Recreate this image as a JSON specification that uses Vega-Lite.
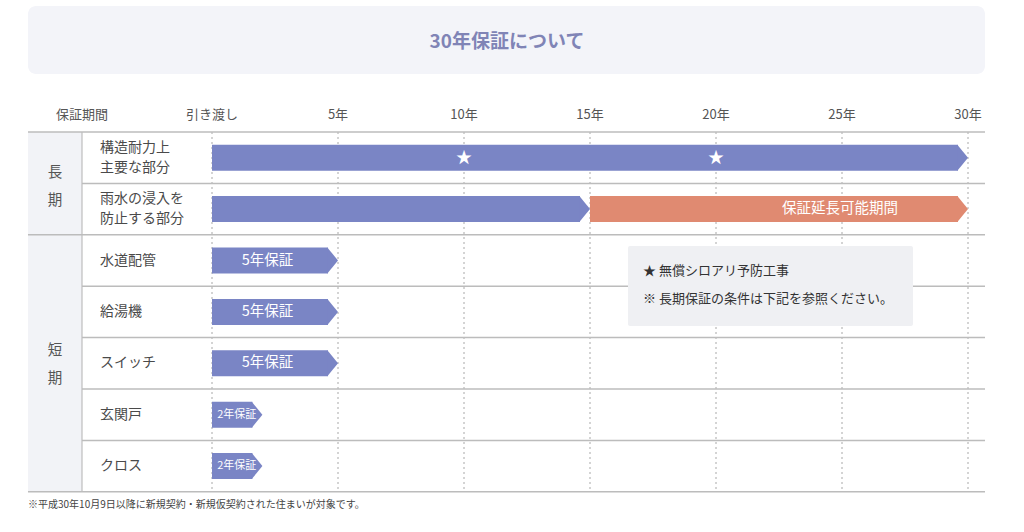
{
  "$schema": "https://vega.github.io/schema/vega-lite/v6.json",
  "width": 1024,
  "height": 532,
  "padding": 0,
  "autosize": {"type": "fit", "contains": "padding"},
  "background": "#ffffff",
  "config": {"view": {"stroke": null}, "font": "Noto Sans CJK JP"},
  "datasets": {
    "titlebox": [{"x0": -7.302, "x1": 30.675, "y0": -2.451, "y1": -1.128}],
    "groupcol": [{"x0": -7.302, "x1": -5.159, "y0": 0, "y1": 7}],
    "legendbox": [{"x0": 16.508, "x1": 27.817, "y0": 2.218, "y1": 3.774}],
    "title": [{"x": 11.706, "r": -1.751, "text": "30年保証について"}],
    "fulllines": [{"r": 0}, {"r": 2}, {"r": 7}],
    "innerlines": [{"r": 1}, {"r": 3}, {"r": 4}, {"r": 5}, {"r": 6}],
    "vsep": [{"x": -5.159, "r0": 0, "r1": 7}],
    "columns": [
      {"year": -5.159, "label": "保証期間"},
      {"year": 0, "label": "引き渡し"},
      {"year": 5, "label": "5年"},
      {"year": 10, "label": "10年"},
      {"year": 15, "label": "15年"},
      {"year": 20, "label": "20年"},
      {"year": 25, "label": "25年"},
      {"year": 30, "label": "30年"}
    ],
    "groups": [{"r": 1.07, "label": "長\n期"}, {"r": 4.53, "label": "短\n期"}],
    "rows2": [
      {"row": 0.5, "label": "構造耐力上\n主要な部分"},
      {"row": 1.5, "label": "雨水の浸入を\n防止する部分"}
    ],
    "rows1": [
      {"row": 2.5, "label": "水道配管"},
      {"row": 3.5, "label": "給湯機"},
      {"row": 4.5, "label": "スイッチ"},
      {"row": 5.5, "label": "玄関戸"},
      {"row": 6.5, "label": "クロス"}
    ],
    "bars": [
      {"row": 0.5, "start": 0, "end": 30, "type": "保証"},
      {"row": 1.5, "start": 0, "end": 15, "type": "保証"},
      {"row": 1.5, "start": 15, "end": 30, "type": "延長"},
      {"row": 2.5, "start": 0, "end": 5, "type": "保証"},
      {"row": 3.5, "start": 0, "end": 5, "type": "保証"},
      {"row": 4.5, "start": 0, "end": 5, "type": "保証"},
      {"row": 5.5, "start": 0, "end": 2, "type": "保証"},
      {"row": 6.5, "start": 0, "end": 2, "type": "保証"}
    ],
    "labels": [
      {"row": 1.5, "x": 24.92, "text": "保証延長可能期間"},
      {"row": 2.5, "x": 2.2, "text": "5年保証"},
      {"row": 3.5, "x": 2.2, "text": "5年保証"},
      {"row": 4.5, "x": 2.2, "text": "5年保証"}
    ],
    "smalllabels": [
      {"row": 5.5, "x": 0.98, "text": "2年保証"},
      {"row": 6.5, "x": 0.98, "text": "2年保証"}
    ],
    "stars": [{"row": 0.5, "year": 10}, {"row": 0.5, "year": 20}],
    "notes": [
      {"x": 17.103, "r": 2.704, "text": "★ 無償シロアリ予防工事"},
      {"x": 17.103, "r": 3.249, "text": "※ 長期保証の条件は下記を参照ください。"}
    ],
    "footnote": [{"x": -7.302, "r": 7.257, "text": "※平成30年10月9日以降に新規契約・新規仮契約された住まいが対象です。"}]
  },
  "layer": [
    {
      "data": {"name": "titlebox"},
      "mark": {"type": "rect", "fill": "#f3f4f9", "cornerRadius": 8},
      "encoding": {
        "x": {"field": "x0", "type": "quantitative", "scale": {"domain": [-8.4127, 32.2222], "nice": false, "zero": false}, "axis": null},
        "x2": {"field": "x1"},
        "y": {"field": "y0", "type": "quantitative", "scale": {"domain": [-2.568, 7.782], "nice": false, "zero": false, "reverse": true}, "axis": null},
        "y2": {"field": "y1"}
      }
    },
    {
      "data": {"name": "groupcol"},
      "mark": {"type": "rect", "fill": "#f2f3f7"},
      "encoding": {
        "x": {"field": "x0", "type": "quantitative", "axis": null},
        "x2": {"field": "x1"},
        "y": {"field": "y0", "type": "quantitative", "axis": null},
        "y2": {"field": "y1"}
      }
    },
    {
      "data": {"name": "title"},
      "mark": {"type": "text", "fontSize": 19, "fontWeight": "bold", "color": "#8084b6", "align": "center", "baseline": "middle", "font": "Noto Sans CJK JP"},
      "encoding": {
        "x": {"field": "x", "type": "quantitative", "axis": null},
        "y": {"field": "r", "type": "quantitative", "axis": null},
        "text": {"field": "text"}
      }
    },
    {
      "data": {"name": "columns"},
      "transform": [{"filter": "datum.year >= 0"}],
      "mark": {"type": "rule", "stroke": "#a8a8a8", "strokeWidth": 1, "strokeDash": [2, 3]},
      "encoding": {
        "x": {"field": "year", "type": "quantitative", "axis": null},
        "y": {"datum": 0, "type": "quantitative", "axis": null},
        "y2": {"datum": 7}
      }
    },
    {
      "data": {"name": "vsep"},
      "mark": {"type": "rule", "stroke": "#bdbdbd", "strokeWidth": 1.2},
      "encoding": {
        "x": {"field": "x", "type": "quantitative", "axis": null},
        "y": {"field": "r0", "type": "quantitative", "axis": null},
        "y2": {"field": "r1"}
      }
    },
    {
      "data": {"name": "fulllines"},
      "mark": {"type": "rule", "stroke": "#bcbcbc", "strokeWidth": 1.6},
      "encoding": {
        "x": {"datum": -7.302, "type": "quantitative", "axis": null},
        "x2": {"datum": 30.675},
        "y": {"field": "r", "type": "quantitative", "axis": null}
      }
    },
    {
      "data": {"name": "innerlines"},
      "mark": {"type": "rule", "stroke": "#bcbcbc", "strokeWidth": 1.5},
      "encoding": {
        "x": {"datum": -5.159, "type": "quantitative", "axis": null},
        "x2": {"datum": 30.675},
        "y": {"field": "r", "type": "quantitative", "axis": null}
      }
    },
    {
      "data": {"name": "columns"},
      "mark": {"type": "text", "fontSize": 13, "color": "#555555", "align": "center", "baseline": "middle", "font": "Noto Sans CJK JP"},
      "encoding": {
        "x": {"field": "year", "type": "quantitative", "axis": null},
        "y": {"datum": -0.331, "type": "quantitative", "axis": null},
        "text": {"field": "label"}
      }
    },
    {
      "data": {"name": "groups"},
      "mark": {"type": "text", "fontSize": 14.5, "color": "#555555", "align": "center", "baseline": "middle", "lineBreak": "\n", "lineHeight": 28, "dy": -14, "font": "Noto Sans CJK JP"},
      "encoding": {
        "x": {"datum": -6.23, "type": "quantitative", "axis": null},
        "y": {"field": "r", "type": "quantitative", "axis": null},
        "text": {"field": "label"}
      }
    },
    {
      "data": {"name": "rows2"},
      "mark": {"type": "text", "fontSize": 14, "color": "#4a4a4a", "align": "left", "baseline": "middle", "lineBreak": "\n", "lineHeight": 20, "dy": -10, "font": "Noto Sans CJK JP"},
      "encoding": {
        "x": {"datum": -4.444, "type": "quantitative", "axis": null},
        "y": {"field": "row", "type": "quantitative", "axis": null},
        "text": {"field": "label"}
      }
    },
    {
      "data": {"name": "rows1"},
      "mark": {"type": "text", "fontSize": 14, "color": "#4a4a4a", "align": "left", "baseline": "middle", "font": "Noto Sans CJK JP"},
      "encoding": {
        "x": {"datum": -4.444, "type": "quantitative", "axis": null},
        "y": {"field": "row", "type": "quantitative", "axis": null},
        "text": {"field": "label"}
      }
    },
    {
      "data": {"name": "bars"},
      "mark": {"type": "rect", "x2Offset": -10, "yOffset": -13, "y2Offset": 13},
      "encoding": {
        "x": {"field": "start", "type": "quantitative", "axis": null},
        "x2": {"field": "end"},
        "y": {"field": "row", "type": "quantitative", "axis": null},
        "y2": {"field": "row"},
        "color": {"field": "type", "type": "nominal", "scale": {"domain": ["保証", "延長"], "range": ["#7a85c5", "#e08a71"]}, "legend": null}
      }
    },
    {
      "data": {"name": "bars"},
      "mark": {"type": "point", "shape": "M-0.82,-1L0,0L-0.82,1Z", "size": 676, "filled": true, "opacity": 1, "strokeWidth": 0},
      "encoding": {
        "x": {"field": "end", "type": "quantitative", "axis": null},
        "y": {"field": "row", "type": "quantitative", "axis": null},
        "color": {"field": "type", "type": "nominal", "legend": null}
      }
    },
    {
      "data": {"name": "labels"},
      "mark": {"type": "text", "fontSize": 14.5, "color": "#ffffff", "align": "center", "baseline": "middle", "font": "Noto Sans CJK JP"},
      "encoding": {
        "x": {"field": "x", "type": "quantitative", "axis": null},
        "y": {"field": "row", "type": "quantitative", "axis": null},
        "text": {"field": "text"}
      }
    },
    {
      "data": {"name": "smalllabels"},
      "mark": {"type": "text", "fontSize": 11, "color": "#ffffff", "align": "center", "baseline": "middle", "font": "Noto Sans CJK JP"},
      "encoding": {
        "x": {"field": "x", "type": "quantitative", "axis": null},
        "y": {"field": "row", "type": "quantitative", "axis": null},
        "text": {"field": "text"}
      }
    },
    {
      "data": {"name": "stars"},
      "mark": {"type": "text", "fontSize": 16, "color": "#ffffff", "align": "center", "baseline": "middle", "text": "★", "font": "Noto Sans CJK JP"},
      "encoding": {
        "x": {"field": "year", "type": "quantitative", "axis": null},
        "y": {"field": "row", "type": "quantitative", "axis": null}
      }
    },
    {
      "data": {"name": "legendbox"},
      "mark": {"type": "rect", "fill": "#eff0f3", "cornerRadius": 2},
      "encoding": {
        "x": {"field": "x0", "type": "quantitative", "axis": null},
        "x2": {"field": "x1"},
        "y": {"field": "y0", "type": "quantitative", "axis": null},
        "y2": {"field": "y1"}
      }
    },
    {
      "data": {"name": "notes"},
      "mark": {"type": "text", "fontSize": 13, "color": "#333333", "align": "left", "baseline": "middle", "font": "Noto Sans CJK JP"},
      "encoding": {
        "x": {"field": "x", "type": "quantitative", "axis": null},
        "y": {"field": "r", "type": "quantitative", "axis": null},
        "text": {"field": "text"}
      }
    },
    {
      "data": {"name": "footnote"},
      "mark": {"type": "text", "fontSize": 10, "color": "#444444", "align": "left", "baseline": "middle", "font": "Noto Sans CJK JP"},
      "encoding": {
        "x": {"field": "x", "type": "quantitative", "axis": null},
        "y": {"field": "r", "type": "quantitative", "axis": null},
        "text": {"field": "text"}
      }
    }
  ]
}
